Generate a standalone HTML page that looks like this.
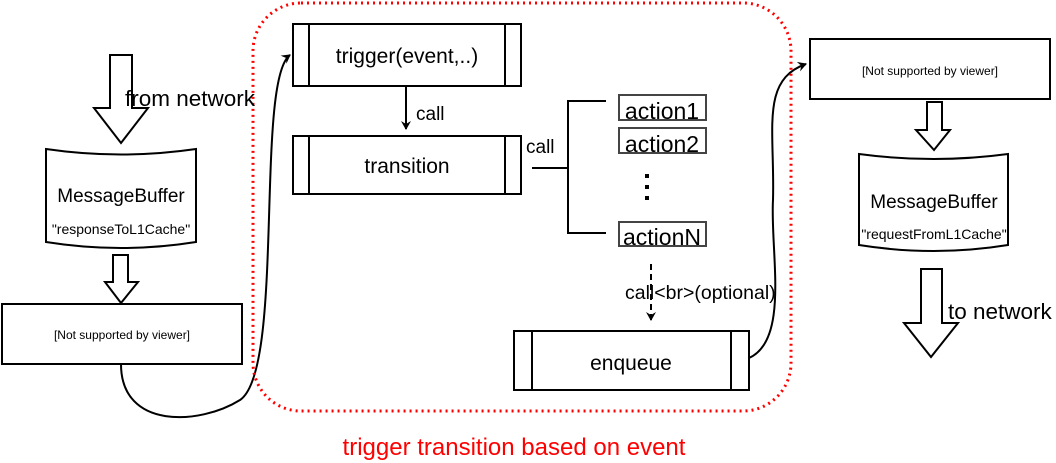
<!DOCTYPE html>
<html><head><meta charset="utf-8"><style>
html,body{margin:0;padding:0;background:#fff;}
svg{display:block;font-family:"Liberation Sans",Arial,sans-serif;}
</style></head><body>
<svg width="1056" height="463" viewBox="0 0 1056 463" xmlns="http://www.w3.org/2000/svg">
<defs>
<marker id="ah" markerWidth="10" markerHeight="10" refX="8" refY="5" orient="auto" markerUnits="userSpaceOnUse">
<path d="M0,0 L9,5 L0,10 L3,5 Z" fill="#000"/>
</marker>
</defs>
<g stroke="#000" stroke-width="2" fill="#fff">
<path d="M110,55 H132 V108 H148 L121,143 L94,108 H110 Z"/>
<path d="M46,149 Q121,160 196,149 V242 Q121,254 46,242 Z"/>
<path d="M113,255 H128 V282 H138 L121,303 L105,282 H113 Z"/>
<rect x="2" y="304" width="240" height="60"/>
<rect x="293" y="24" width="228" height="62"/>
<line x1="309" y1="24" x2="309" y2="86"/>
<line x1="505" y1="24" x2="505" y2="86"/>
<rect x="293" y="136" width="228" height="58"/>
<line x1="309" y1="136" x2="309" y2="194"/>
<line x1="505" y1="136" x2="505" y2="194"/>
<rect x="514" y="331" width="235" height="59"/>
<line x1="532" y1="331" x2="532" y2="390"/>
<line x1="731" y1="331" x2="731" y2="390"/>
<rect x="810" y="39" width="240" height="60"/>
<path d="M927,102 H942 V130 H950 L934,150 L916,130 H927 Z"/>
<path d="M859,154 Q934,164 1008,154 V245 Q934,257 859,245 Z"/>
<path d="M921,269 H942 V323 H958 L931,357 L904,323 H921 Z"/>
</g>
<g stroke="#000" stroke-width="2" fill="none">
<path d="M532,168 H568 M606,101 H568 V233 H606"/>
<line x1="406" y1="86" x2="406" y2="129" marker-end="url(#ah)"/>
<line x1="651" y1="264" x2="651" y2="320" stroke-dasharray="6,4" marker-end="url(#ah)"/>
<path d="M121,364 C121,430 200,425 240,400 C285,370 255,80 290,55" marker-end="url(#ah)"/>
<path d="M749,358 C790,340 770,250 773,200 C775,130 760,80 806,64" marker-end="url(#ah)"/>
</g>
<g fill="#fff" stroke="#444" stroke-width="2">
<rect x="619" y="95" width="87" height="25"/>
<rect x="619" y="128" width="87" height="25"/>
<rect x="619" y="222" width="87" height="24"/>
</g>
<g fill="#000">
<rect x="645" y="174" width="4" height="4"/>
<rect x="645" y="185" width="4" height="4"/>
<rect x="645" y="196" width="4" height="4"/>
</g>
<rect x="253" y="3" width="538" height="408" rx="48" ry="48" fill="none" stroke="#f00" stroke-width="3" stroke-dasharray="2,4"/>
<g fill="#000">
<text x="125" y="106" font-size="22.5">from network</text>
<text x="121" y="202" font-size="19" text-anchor="middle">MessageBuffer</text>
<text x="121" y="234" font-size="14" text-anchor="middle">"responseToL1Cache"</text>
<text x="122" y="339" font-size="12" text-anchor="middle">[Not supported by viewer]</text>
<text x="407" y="63" font-size="21" text-anchor="middle">trigger(event,..)</text>
<text x="416" y="120" font-size="19">call</text>
<text x="407" y="173" font-size="21" text-anchor="middle">transition</text>
<text x="526" y="153" font-size="19">call</text>
<text x="662" y="119" font-size="23" text-anchor="middle">action1</text>
<text x="662" y="152" font-size="23" text-anchor="middle">action2</text>
<text x="662" y="245" font-size="23" text-anchor="middle">actionN</text>
<text x="625" y="299" font-size="19.5">call&lt;br&gt;(optional)</text>
<text x="631" y="370" font-size="21" text-anchor="middle">enqueue</text>
<text x="930" y="75" font-size="12" text-anchor="middle">[Not supported by viewer]</text>
<text x="934" y="208" font-size="19" text-anchor="middle">MessageBuffer</text>
<text x="934" y="239" font-size="14" text-anchor="middle">"requestFromL1Cache"</text>
<text x="948" y="319" font-size="22.5">to network</text>
</g>
<text x="514" y="455" font-size="24" fill="#f00" text-anchor="middle">trigger transition based on event</text>
</svg>
</body></html>
